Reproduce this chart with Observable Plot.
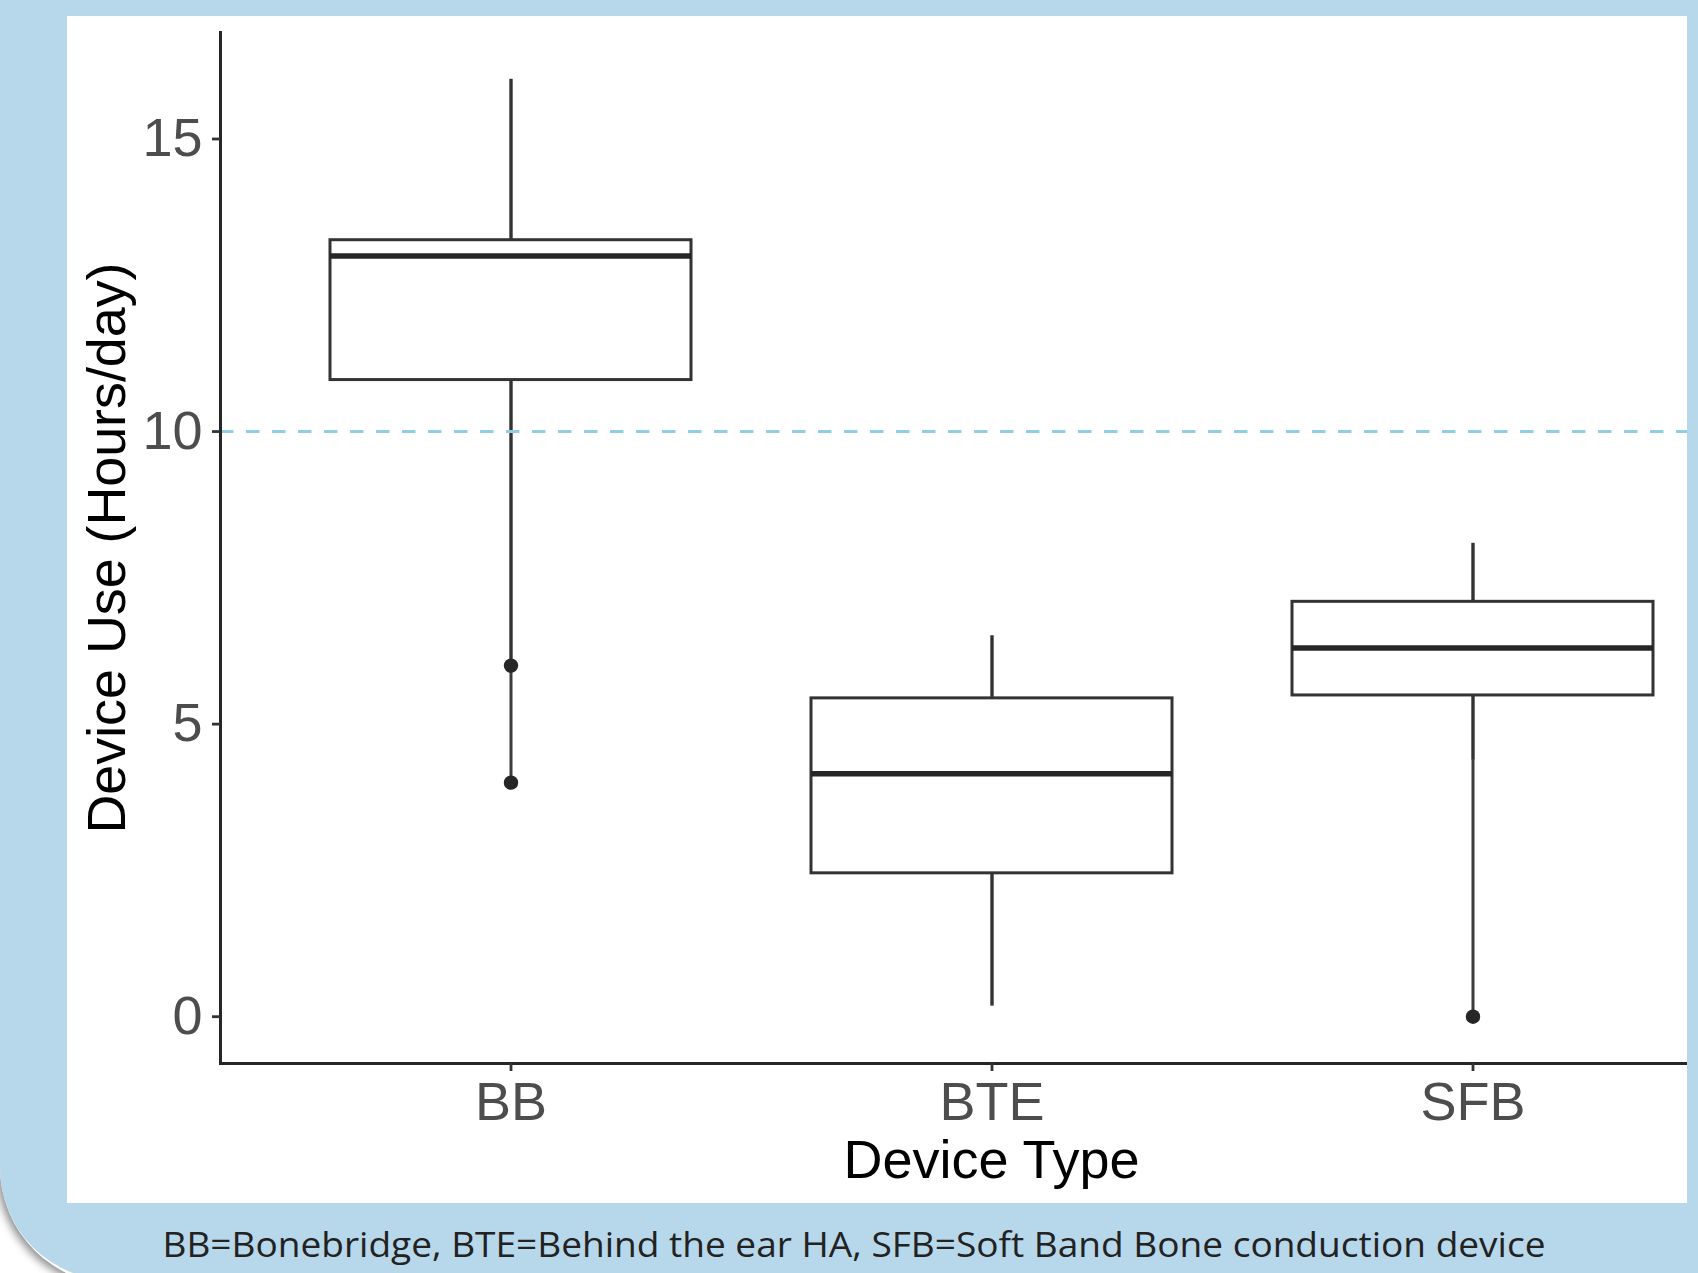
<!DOCTYPE html>
<html>
<head>
<meta charset="utf-8">
<script src="https://cdn.jsdelivr.net/npm/d3@7"></script>
<script src="https://cdn.jsdelivr.net/npm/@observablehq/plot@0.6"></script>
<style>
  html, body { margin: 0; padding: 0; background: #ffffff; }
  #page { position: relative; width: 1698px; height: 1273px; overflow: hidden; background: #ffffff; }
  #ring { position: absolute; left: 0; top: -20px; width: 1698px; height: 1305px; background: #ffffff;
          border-bottom-left-radius: 118px; box-shadow: -3px 3px 9px rgba(0,0,0,0.45); }
  #blue { position: absolute; left: 0; top: -20px; width: 1698px; height: 1300px; background: #b7d7eb;
          border-bottom-left-radius: 112px; }
  #panel { position: absolute; left: 67px; top: 16px; width: 1620px; height: 1187px; background: #ffffff; overflow: hidden; }
  #caption { position: absolute; left: 0; top: 0; pointer-events: none; }
</style>
</head>
<body>
<div id="page">
  <div id="ring"></div>
  <div id="blue"></div>
  <div id="panel"></div>
  <svg id="caption" width="1698" height="1273"></svg>
</div>
<script>
// ---- data ----
const categories = ["BB", "BTE", "SFB"];
const q1 = [10.88, 2.45, 5.49];
const medians = [13.0, 4.15, 6.30];
const q3 = [13.27, 5.44, 7.09];
const whiskerHigh = [16.02, 6.51, 8.09];
const whiskerLow = [6.0, 0.18, 4.38];
const outlierCategories = ["BB", "BB", "SFB"];
const outlierValues = [6.0, 4.0, 0.0];
const connectorCategories = ["BB", "SFB"];
const connectorFrom = [6.0, 4.38];
const connectorTo = [4.0, 0.0];
const referenceLine = [10];
const yTicks = [0, 5, 10, 15];
const yDomain = [-0.8, 16.82];
const xTitle = "Device Type";
const yTitle = "Device Use (Hours/day)";
const captionText = "BB=Bonebridge, BTE=Behind the ear HA, SFB=Soft Band Bone conduction device";

// ---- tables built from the arrays ----
const boxes = categories.map((c, i) => ({cat: c, q1: q1[i], med: medians[i], q3: q3[i], hi: whiskerHigh[i], lo: whiskerLow[i]}));
const outliers = outlierCategories.map((c, i) => ({cat: c, v: outlierValues[i]}));
const connectors = connectorCategories.map((c, i) => ({cat: c, a: connectorFrom[i], b: connectorTo[i]}));

const FONT = "'Liberation Sans', Arial, Helvetica, sans-serif";
const dark = "#333333";

const chart = Plot.plot({
  width: 1700,
  height: 1187,
  marginLeft: 153,
  marginRight: 5,
  marginTop: 16,
  marginBottom: 140,
  style: {fontFamily: FONT, fontSize: "53.5px", background: "white", maxWidth: "none", overflow: "hidden"},
  x: {type: "band", domain: categories, paddingInner: 0.25, paddingOuter: 0.225},
  y: {domain: yDomain},
  marks: [
    Plot.ruleX(boxes, {x: "cat", y1: "q3", y2: "hi", stroke: dark, strokeWidth: 3.4}),
    Plot.ruleX(boxes, {x: "cat", y1: "q1", y2: "lo", stroke: dark, strokeWidth: 3.4}),
    Plot.ruleX(connectors, {x: "cat", y1: "a", y2: "b", stroke: "#3c3c3c", strokeWidth: 3}),
    Plot.barY(boxes, {x: "cat", y1: "q1", y2: "q3", fill: "white", stroke: dark, strokeWidth: 3}),
    Plot.tickY(boxes, {x: "cat", y: "med", stroke: "#262626", strokeWidth: 5.5}),
    Plot.dot(outliers, {x: "cat", y: "v", r: 7.2, fill: "#262626", stroke: null}),
    Plot.ruleY(referenceLine, {stroke: "#93cde3", strokeWidth: 2.9, strokeDasharray: "13.5,12.5"}),
    Plot.frame({anchor: "left", stroke: "#262626", strokeWidth: 3}),
    Plot.frame({anchor: "bottom", stroke: "#262626", strokeWidth: 3}),
    Plot.axisY({ticks: yTicks, tickSize: 8, tickPadding: 10, fill: "#4d4d4d", stroke: dark, strokeWidth: 2.8, label: null, fontSize: 54}),
    Plot.axisX({tickSize: 8, tickPadding: 10, fill: "#4d4d4d", stroke: dark, strokeWidth: 2.8, label: null, fontSize: 54}),
    Plot.text([xTitle], {text: d => d, frameAnchor: "bottom", textAnchor: "middle", dy: 114, lineAnchor: "bottom", fill: "black", fontSize: 54}),
    Plot.text([yTitle], {text: d => d, frameAnchor: "left", textAnchor: "middle", rotate: -90, dx: -96, lineAnchor: "bottom", fill: "black", fontSize: 53.8})
  ]
});
document.getElementById("panel").appendChild(chart);

// caption below the white panel
const cap = d3.select("#caption");
cap.append("text")
  .attr("x", 854)
  .attr("y", 1257)
  .attr("text-anchor", "middle")
  .attr("font-family", "'Open Sans', 'Noto Sans', sans-serif")
  .attr("font-size", 35)
  .attr("fill", "#222222")
  .attr("textLength", 1383)
  .attr("lengthAdjust", "spacingAndGlyphs")
  .text(captionText);
</script>
</body>
</html>
